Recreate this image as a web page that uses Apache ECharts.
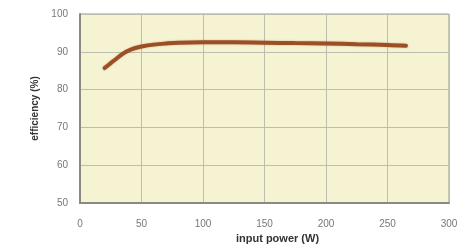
<!DOCTYPE html>
<html><head><meta charset="utf-8">
<script src="https://cdn.jsdelivr.net/npm/echarts@6/dist/echarts.min.js"></script>
<style>html,body{margin:0;padding:0;background:#fff}#c{width:468px;height:250px}</style>
</head><body><div id="c"></div>
<script>
const powerW = [20, 25, 30, 35, 40, 45, 50, 60, 70, 80, 100, 125, 150, 175, 200, 225, 250, 265];
const efficiency = [85.7, 87.0, 88.3, 89.5, 90.4, 91.0, 91.4, 91.9, 92.2, 92.4, 92.5, 92.5, 92.4, 92.3, 92.2, 92.0, 91.8, 91.6];
const xTicks = [0, 50, 100, 150, 200, 250, 300];
const yTicks = [50, 60, 70, 80, 90, 100];

const chart = echarts.init(document.getElementById('c'));
chart.setOption({
  animation: false,
  grid: { left: 80, right: 19, top: 14, bottom: 47, show: true, backgroundColor: '#f6f3d3', borderColor: '#9a9a90', borderWidth: 1 },
  xAxis: {
    type: 'value', min: xTicks[0], max: xTicks[xTicks.length-1], interval: 50,
    name: 'input power (W)', nameLocation: 'middle', nameGap: 29,
    nameTextStyle: { fontFamily: 'Liberation Sans', fontSize: 11, fontWeight: 'bold', color: '#333', padding: [0,0,0,26] },
    axisLine: { show: true, lineStyle: { color: '#8a8a80', width: 2 } },
    axisTick: { show: false },
    axisLabel: { color: '#777', fontFamily: 'Liberation Sans', fontSize: 10, margin: 16 },
    splitLine: { show: true, lineStyle: { color: '#bdbdb0', width: 1 } }
  },
  yAxis: {
    type: 'value', min: yTicks[0], max: yTicks[yTicks.length-1], interval: 10,
    name: 'efficiency (%)', nameLocation: 'middle', nameGap: 26,
    nameTextStyle: { fontFamily: 'Liberation Sans', fontSize: 10, fontWeight: 'bold', color: '#333', padding: [0,0,0,0] },
    axisLine: { show: true, lineStyle: { color: '#8a8a80', width: 2 } },
    axisTick: { show: false },
    axisLabel: { color: '#777', fontFamily: 'Liberation Sans', fontSize: 10, margin: 12 },
    splitLine: { show: true, lineStyle: { color: '#bdbdb0', width: 1 } }
  },
  series: [{
    type: 'line', smooth: 0.4, showSymbol: false,
    data: powerW.map((x, i) => [x, efficiency[i]]),
    lineStyle: { color: '#9c4f24', width: 4, cap: 'round', shadowColor: 'rgba(120,60,20,0.35)', shadowBlur: 2 }
  }]
});
</script></body></html>
